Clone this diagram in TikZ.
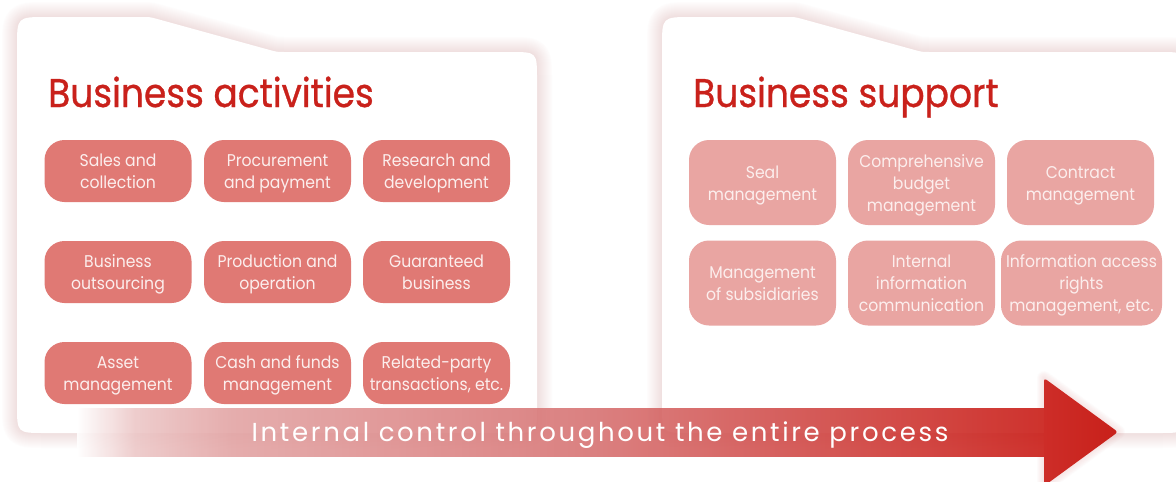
\documentclass[tikz,border=0pt]{standalone}
\usepackage{fontspec}
\setmainfont{Poppins}
\newfontfamily\titlefont{Poppins}[FakeStretch=0.9, FakeBold=0.8]
\newfontfamily\boxfont{Poppins}[FakeStretch=0.92]
\newfontfamily\arrowfont{Poppins}[LetterSpace=10.2]

\definecolor{titlered}{RGB}{201,33,27}
\definecolor{actbox}{RGB}{224,121,116}
\definecolor{supbox}{RGB}{233,165,162}
\definecolor{boxtext}{RGB}{252,238,237}
\definecolor{glowpink}{RGB}{222,150,150}
\definecolor{arA}{RGB}{236,198,198}
\definecolor{arB}{RGB}{226,162,162}
\definecolor{arC}{RGB}{214,110,110}
\definecolor{arD}{RGB}{200,22,16}
\definecolor{headA}{RGB}{205,45,40}
\definecolor{headB}{RGB}{200,32,26}

% horizontal colour ramp of the arrow body (path box maps to 25bp..75bp)
\pgfdeclarehorizontalshading{bodyshade}{100bp}{color(0bp)=(white); color(25bp)=(white); color(28bp)=(arA); color(33bp)=(arB); color(52bp)=(arC); color(75bp)=(arD); color(100bp)=(arD)}
\pgfdeclarehorizontalshading{headshade}{100bp}{color(0bp)=(headA); color(25bp)=(headA); color(75bp)=(headB); color(100bp)=(headB)}

% card outlines (y grows downwards)
\def\leftcard{(45,433) .. controls (17,433) .. (17,405) -- (17,47) .. controls (17,17) .. (47,17) -- (142,17) .. controls (150,17) .. (158,19.2) -- (269,49.8) .. controls (277,52) .. (285,52) -- (510,52) .. controls (537,52) .. (537,79) -- (537,406) .. controls (537,433) .. (510,433) -- cycle}
\def\rightcard{(690,433) .. controls (662,433) .. (662,405) -- (662,47) .. controls (662,17) .. (692,17) -- (787,17) .. controls (795,17) .. (803,19.2) -- (914,49.8) .. controls (922,52) .. (930,52) -- (1159,52) .. controls (1186,52) .. (1186,79) -- (1186,406) .. controls (1186,433) .. (1159,433) -- cycle}

\tikzset{
  glow/.style={draw=glowpink, line width=#1, draw opacity=0.02, line join=round},
  itembase/.style={rounded corners=20pt, minimum width=147pt, inner sep=0pt, align=center,
    text=boxtext, font=\boxfont\fontsize{17}{22}\selectfont, text height=41pt, text depth=6pt},
  threelines/.style={text height=63pt},
  actitem/.style={itembase, fill=actbox, minimum height=62pt},
  supitem/.style={itembase, fill=supbox, minimum height=85pt},
  cardtitle/.style={anchor=base west, inner sep=0pt, text=titlered, font=\titlefont\fontsize{40}{44}\selectfont}
}

\begin{document}
\begin{tikzpicture}[x=1pt, y=-1pt]
\useasboundingbox (0,0) rectangle (1176,482);
\fill[white] (0,0) rectangle (1176,482);

% soft glow behind the cards
\foreach \w in {2,4,...,30} {
  \path[glow=\w pt] \leftcard;
  \path[glow=\w pt] \rightcard;
}
\fill[white] \leftcard;
\fill[white] \rightcard;

% titles
\node[cardtitle] (acttitle) at (48,107) {Business activities};
\node[cardtitle] (suptitle) at (693,107) {Business support};

% business activities
\node[actitem] (a11) at (118,171)   {Sales and\\collection};
\node[actitem] (a12) at (277.5,171) {Procurement\\and payment};
\node[actitem] (a13) at (436.5,171) {Research and\\development};
\node[actitem] (a21) at (118,272)   {Business\\outsourcing};
\node[actitem] (a22) at (277.5,272) {Production and\\operation};
\node[actitem] (a23) at (436.5,272) {Guaranteed\\business};
\node[actitem] (a31) at (118,373)   {Asset\\management};
\node[actitem] (a32) at (277.5,373) {Cash and funds\\management};
\node[actitem] (a33) at (436.5,373) {Related-party\\transactions, etc.};

% business support
\node[supitem] (s11) at (762.5,182.5)  {Seal\\management};
\node[supitem, threelines] (s12) at (921.5,182.5)  {Comprehensive\\budget\\management};
\node[supitem] (s13) at (1080.5,182.5) {Contract\\management};
\node[supitem] (s21) at (762.5,283)    {Management\\of subsidiaries};
\node[supitem, threelines] (s22) at (921.5,283)    {Internal\\information\\communication};
\node[supitem, threelines, minimum width=161pt] (s23) at (1081.5,283) {Information access\\rights\\management, etc.};

% arrow: faded body and solid head
\foreach \w in {2,4,...,14} {
  \path[draw=glowpink, line width=\w pt, draw opacity=0.03, line join=round]
    (1044,408) -- (1044,378) -- (1118,432) -- (1044,486) -- (1044,456);
}
\shade[shading=bodyshade, opacity=0.88] (77,408) -- (1045,408) -- (1045,456) -- (77,456) -- cycle;
\shade[shading=headshade, rounded corners=3pt] (1044,408) -- (1044,378) -- (1118,432) -- (1044,486) -- (1044,456) -- cycle;
\node[anchor=base, inner sep=0pt, text=white, font=\arrowfont\fontsize{26}{30}\selectfont] (flow) at (600,441)
  {Internal control throughout the entire process};
\end{tikzpicture}
\end{document}
